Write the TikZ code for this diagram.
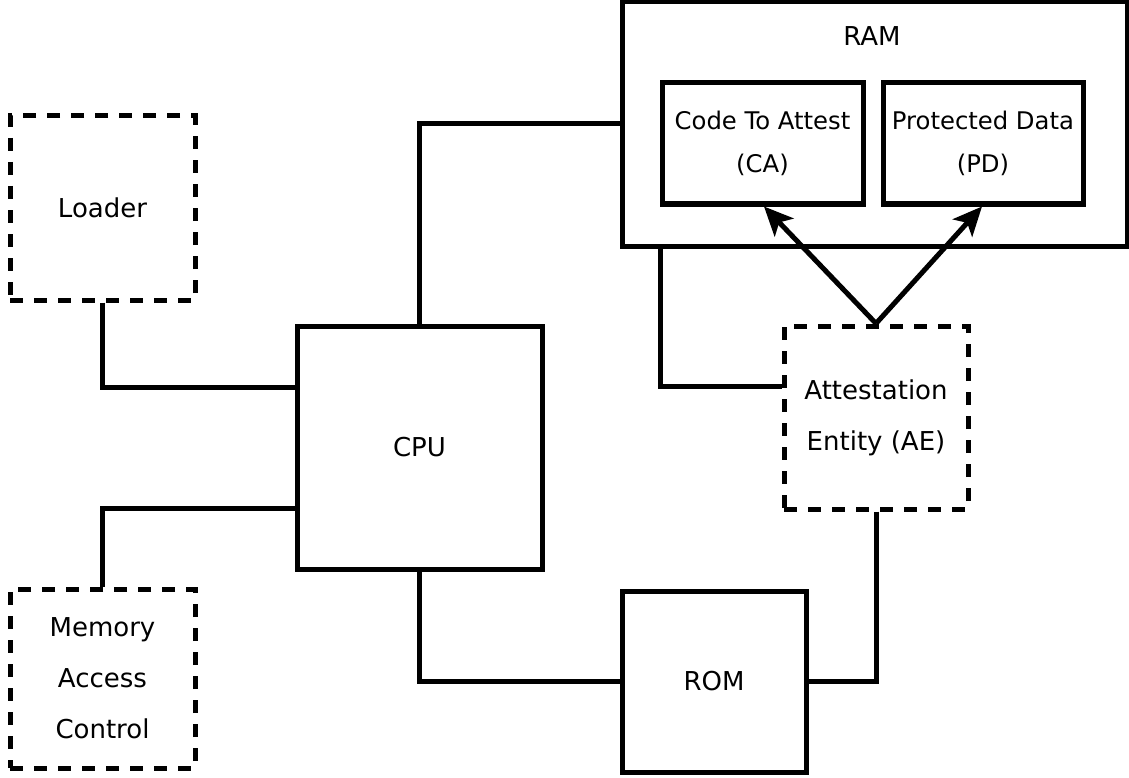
\documentclass[tikz,border=0pt]{standalone}
\usepackage{fontspec}
\setmainfont{DejaVu Sans}
\usetikzlibrary{arrows.meta}
\begin{document}
\begin{tikzpicture}[
    x=1pt, y=-1pt,
    line width=5pt,
    unit/.style={rectangle, draw, line width=5pt, align=center, font=\fontsize{26}{51}\selectfont},
    entity/.style={unit, dash pattern=on 13pt off 11pt},
    region/.style={rectangle, draw, line width=5pt, align=center, font=\fontsize{24.3}{43}\selectfont},
    link/.style={draw, line width=5pt},
    attests/.style={-{Stealth[length=29pt, width=26pt, inset=7pt]}, line width=5pt}
]
    \useasboundingbox (0,0) rectangle (1129,778);
    % Main units
    \node[unit, minimum width=245pt, minimum height=243pt] (cpu) at (419.5,447.5) {CPU};
    \node[unit, minimum width=505pt, minimum height=244pt] (ram) at (874.5,124) {};
    \node[font=\fontsize{26}{51}\selectfont] (ramtext) at (872,36) {RAM};
    \node[unit, minimum width=184pt, minimum height=181pt] (rom) at (714,681.5) {ROM};
    % Regions inside RAM
    \node[region, minimum width=201pt, minimum height=121pt] (ca) at (762.5,143.5) {Code To Attest\\(CA)};
    \node[region, minimum width=200pt, minimum height=121pt] (pd) at (983,143.5) {Protected Data\\(PD)};
    % Dashed entities
    \node[entity, minimum width=185pt, minimum height=184pt] (loader) at (102.5,208) {Loader};
    \node[entity, minimum width=185pt, minimum height=179pt] (mac) at (102.5,678.5) {Memory\\Access\\Control};
    \node[entity, minimum width=184pt, minimum height=183pt] (ae) at (876,417.5) {Attestation\\Entity (AE)};
    % Buses
    \draw[link] (loader.south) |- ([yshift=60pt]cpu.west);
    \draw[link] (mac.north) |- ([yshift=-61pt]cpu.west);
    \draw[link] (cpu.north) |- (ram.west);
    \draw[link] (cpu.south) |- (rom.west);
    \draw[link] (ae.south) |- (rom.east);
    \draw[link] ([xshift=41pt]ram.south west) |- ([yshift=31.5pt]ae.west);
    % Attestation arrows
    \draw[attests] (ae.north) -- ([xshift=1.5pt]ca.south);
    \draw[attests] (ae.north) -- ([xshift=-1pt]pd.south);
\end{tikzpicture}
\end{document}
